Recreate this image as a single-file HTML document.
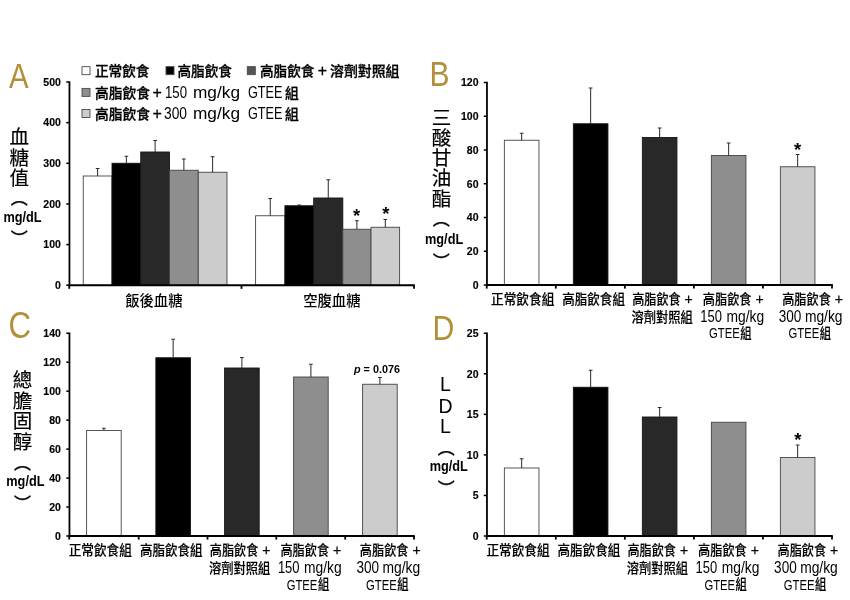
<!DOCTYPE html>
<html lang="zh-Hant">
<head>
<meta charset="utf-8">
<title>GTEE 血糖與血脂</title>
<style>
html,body{margin:0;padding:0;background:#fff;}
body{width:850px;height:600px;overflow:hidden;font-family:"Liberation Sans","Noto Sans CJK TC",sans-serif;}
svg{display:block;filter:blur(0.45px);}
</style>
</head>
<body>
<svg width="850" height="600" viewBox="0 0 850 600">
<rect x="0" y="0" width="850" height="600" fill="#ffffff"/>
<rect x="83.25" y="176.00" width="28.75" height="109.25" fill="#ffffff" stroke="#444444" stroke-width="0.9"/>
<line x1="97.62" y1="176.00" x2="97.62" y2="168.50" stroke="#2a2a2a" stroke-width="1.0"/>
<line x1="95.78" y1="168.50" x2="99.47" y2="168.50" stroke="#2a2a2a" stroke-width="1.0"/>
<rect x="112.00" y="163.25" width="28.75" height="122.00" fill="#000000" stroke="#141414" stroke-width="0.9"/>
<line x1="126.38" y1="163.25" x2="126.38" y2="156.25" stroke="#2a2a2a" stroke-width="1.0"/>
<line x1="124.53" y1="156.25" x2="128.22" y2="156.25" stroke="#2a2a2a" stroke-width="1.0"/>
<rect x="140.75" y="152.00" width="28.75" height="133.25" fill="#282828" stroke="#141414" stroke-width="0.9"/>
<line x1="155.12" y1="152.00" x2="155.12" y2="140.50" stroke="#2a2a2a" stroke-width="1.0"/>
<line x1="153.28" y1="140.50" x2="156.97" y2="140.50" stroke="#2a2a2a" stroke-width="1.0"/>
<rect x="169.50" y="170.25" width="28.75" height="115.00" fill="#8e8e8e" stroke="#444444" stroke-width="0.9"/>
<line x1="183.88" y1="170.25" x2="183.88" y2="159.00" stroke="#2a2a2a" stroke-width="1.0"/>
<line x1="182.03" y1="159.00" x2="185.72" y2="159.00" stroke="#2a2a2a" stroke-width="1.0"/>
<rect x="198.25" y="172.25" width="28.75" height="113.00" fill="#cccccc" stroke="#444444" stroke-width="0.9"/>
<line x1="212.62" y1="172.25" x2="212.62" y2="156.75" stroke="#2a2a2a" stroke-width="1.0"/>
<line x1="210.78" y1="156.75" x2="214.47" y2="156.75" stroke="#2a2a2a" stroke-width="1.0"/>
<rect x="255.60" y="215.75" width="29.30" height="69.50" fill="#ffffff" stroke="#444444" stroke-width="0.9"/>
<line x1="270.25" y1="215.75" x2="270.25" y2="198.50" stroke="#2a2a2a" stroke-width="1.0"/>
<line x1="268.40" y1="198.50" x2="272.10" y2="198.50" stroke="#2a2a2a" stroke-width="1.0"/>
<rect x="284.90" y="205.75" width="28.80" height="79.50" fill="#000000" stroke="#141414" stroke-width="0.9"/>
<line x1="299.30" y1="205.75" x2="299.30" y2="205.00" stroke="#2a2a2a" stroke-width="1.0"/>
<line x1="297.45" y1="205.00" x2="301.15" y2="205.00" stroke="#2a2a2a" stroke-width="1.0"/>
<rect x="313.70" y="198.00" width="29.10" height="87.25" fill="#282828" stroke="#141414" stroke-width="0.9"/>
<line x1="328.25" y1="198.00" x2="328.25" y2="179.75" stroke="#2a2a2a" stroke-width="1.0"/>
<line x1="326.40" y1="179.75" x2="330.10" y2="179.75" stroke="#2a2a2a" stroke-width="1.0"/>
<rect x="342.80" y="229.25" width="28.20" height="56.00" fill="#8e8e8e" stroke="#444444" stroke-width="0.9"/>
<line x1="356.90" y1="229.25" x2="356.90" y2="220.75" stroke="#2a2a2a" stroke-width="1.0"/>
<line x1="355.05" y1="220.75" x2="358.75" y2="220.75" stroke="#2a2a2a" stroke-width="1.0"/>
<rect x="371.00" y="227.25" width="28.60" height="58.00" fill="#cccccc" stroke="#444444" stroke-width="0.9"/>
<line x1="385.30" y1="227.25" x2="385.30" y2="219.50" stroke="#2a2a2a" stroke-width="1.0"/>
<line x1="383.45" y1="219.50" x2="387.15" y2="219.50" stroke="#2a2a2a" stroke-width="1.0"/>
<text x="356.60" y="221.50" font-size="18.5" font-family='"Liberation Sans", sans-serif' font-weight="bold" text-anchor="middle" fill="#000">*</text>
<text x="385.90" y="220.20" font-size="18.5" font-family='"Liberation Sans", sans-serif' font-weight="bold" text-anchor="middle" fill="#000">*</text>
<text x="125.20" y="306.00" font-size="14.5" font-family='"Liberation Sans", "Noto Sans CJK TC", sans-serif' font-weight="500" text-anchor="start" fill="#000" textLength="57.30" lengthAdjust="spacingAndGlyphs">飯後血糖</text>
<text x="303.20" y="306.00" font-size="14.5" font-family='"Liberation Sans", "Noto Sans CJK TC", sans-serif' font-weight="500" text-anchor="start" fill="#000" textLength="57.30" lengthAdjust="spacingAndGlyphs">空腹血糖</text>
<rect x="82.00" y="66.65" width="8" height="8" fill="#ffffff" stroke="#4a4a4a" stroke-width="0.9"/>
<text x="95.00" y="76.10" font-size="14" font-family='"Liberation Sans", "Noto Sans CJK TC", sans-serif' font-weight="500" text-anchor="start" fill="#000" textLength="54.50" lengthAdjust="spacingAndGlyphs" stroke="#000" stroke-width="0.3">正常飲食</text>
<rect x="166.00" y="66.65" width="8" height="8" fill="#000000" stroke="#4a4a4a" stroke-width="0.9"/>
<text x="177.50" y="76.10" font-size="14" font-family='"Liberation Sans", "Noto Sans CJK TC", sans-serif' font-weight="500" text-anchor="start" fill="#000" textLength="54.50" lengthAdjust="spacingAndGlyphs" stroke="#000" stroke-width="0.3">高脂飲食</text>
<rect x="247.30" y="66.65" width="8" height="8" fill="#555" stroke="#4a4a4a" stroke-width="0.9"/>
<text x="260.00" y="76.10" font-size="14" font-family='"Liberation Sans", "Noto Sans CJK TC", sans-serif' font-weight="500" text-anchor="start" fill="#000" textLength="54.50" lengthAdjust="spacingAndGlyphs" stroke="#000" stroke-width="0.3">高脂飲食</text>
<text x="322.50" y="76.10" font-size="16" font-family='"Liberation Sans", sans-serif' font-weight="normal" text-anchor="middle" fill="#000" stroke="#000" stroke-width="0.3">+</text>
<text x="330.00" y="76.10" font-size="14" font-family='"Liberation Sans", "Noto Sans CJK TC", sans-serif' font-weight="500" text-anchor="start" fill="#000" textLength="69.50" lengthAdjust="spacingAndGlyphs" stroke="#000" stroke-width="0.3">溶劑對照組</text>
<rect x="82.00" y="88.40" width="8" height="8" fill="#8e8e8e" stroke="#4a4a4a" stroke-width="0.9"/>
<text x="95.00" y="97.70" font-size="14" font-family='"Liberation Sans", "Noto Sans CJK TC", sans-serif' font-weight="500" text-anchor="start" fill="#000" textLength="55.00" lengthAdjust="spacingAndGlyphs" stroke="#000" stroke-width="0.3">高脂飲食</text>
<text x="157.10" y="97.70" font-size="16" font-family='"Liberation Sans", sans-serif' font-weight="normal" text-anchor="middle" fill="#000" stroke="#000" stroke-width="0.3">+</text>
<text x="165.00" y="97.70" font-size="16" font-family='"Liberation Sans", sans-serif' font-weight="normal" text-anchor="start" fill="#000" textLength="22.00" lengthAdjust="spacingAndGlyphs">150</text>
<text x="193.00" y="97.70" font-size="16" font-family='"Liberation Sans", sans-serif' font-weight="normal" text-anchor="start" fill="#000" textLength="47.00" lengthAdjust="spacingAndGlyphs">mg/kg</text>
<text x="248.00" y="97.70" font-size="16" font-family='"Liberation Sans", sans-serif' font-weight="normal" text-anchor="start" fill="#000" textLength="34.50" lengthAdjust="spacingAndGlyphs">GTEE</text>
<text x="285.00" y="97.70" font-size="14" font-family='"Liberation Sans", "Noto Sans CJK TC", sans-serif' font-weight="500" text-anchor="start" fill="#000" textLength="13.75" lengthAdjust="spacingAndGlyphs" stroke="#000" stroke-width="0.3">組</text>
<rect x="82.00" y="109.50" width="8" height="8" fill="#cccccc" stroke="#4a4a4a" stroke-width="0.9"/>
<text x="95.00" y="118.90" font-size="14" font-family='"Liberation Sans", "Noto Sans CJK TC", sans-serif' font-weight="500" text-anchor="start" fill="#000" textLength="55.00" lengthAdjust="spacingAndGlyphs" stroke="#000" stroke-width="0.3">高脂飲食</text>
<text x="157.10" y="118.90" font-size="16" font-family='"Liberation Sans", sans-serif' font-weight="normal" text-anchor="middle" fill="#000" stroke="#000" stroke-width="0.3">+</text>
<text x="164.00" y="118.90" font-size="16" font-family='"Liberation Sans", sans-serif' font-weight="normal" text-anchor="start" fill="#000" textLength="23.00" lengthAdjust="spacingAndGlyphs">300</text>
<text x="193.00" y="118.90" font-size="16" font-family='"Liberation Sans", sans-serif' font-weight="normal" text-anchor="start" fill="#000" textLength="47.00" lengthAdjust="spacingAndGlyphs">mg/kg</text>
<text x="248.00" y="118.90" font-size="16" font-family='"Liberation Sans", sans-serif' font-weight="normal" text-anchor="start" fill="#000" textLength="34.50" lengthAdjust="spacingAndGlyphs">GTEE</text>
<text x="285.00" y="118.90" font-size="14" font-family='"Liberation Sans", "Noto Sans CJK TC", sans-serif' font-weight="500" text-anchor="start" fill="#000" textLength="13.75" lengthAdjust="spacingAndGlyphs" stroke="#000" stroke-width="0.3">組</text>
<text x="9.00" y="87.80" font-size="34.5" font-family='"Liberation Sans", sans-serif' font-weight="normal" text-anchor="start" fill="#b38f3a" textLength="19.60" lengthAdjust="spacingAndGlyphs">A</text>
<text x="19.30" y="144.40" font-size="19.5" font-family='"Liberation Sans", "Noto Sans CJK TC", sans-serif' font-weight="400" text-anchor="middle" fill="#000" stroke="#000" stroke-width="0.2">血</text>
<text x="19.30" y="164.90" font-size="19.5" font-family='"Liberation Sans", "Noto Sans CJK TC", sans-serif' font-weight="400" text-anchor="middle" fill="#000" stroke="#000" stroke-width="0.2">糖</text>
<text x="19.30" y="184.90" font-size="19.5" font-family='"Liberation Sans", "Noto Sans CJK TC", sans-serif' font-weight="400" text-anchor="middle" fill="#000" stroke="#000" stroke-width="0.2">值</text>
<text x="19.25" y="203.70" font-size="17" font-family='"Liberation Sans", "Noto Sans CJK TC", sans-serif' font-weight="500" text-anchor="middle" fill="#000" stroke="#000" stroke-width="0.25">︵</text>
<text x="22.50" y="221.80" font-size="14.4" font-family='"Liberation Sans", sans-serif' font-weight="bold" text-anchor="middle" fill="#000" textLength="38.20" lengthAdjust="spacingAndGlyphs">mg/dL</text>
<text x="19.25" y="244.90" font-size="17" font-family='"Liberation Sans", "Noto Sans CJK TC", sans-serif' font-weight="500" text-anchor="middle" fill="#000" stroke="#000" stroke-width="0.25">︶</text>
<rect x="504.35" y="140.25" width="34.60" height="144.75" fill="#ffffff" stroke="#444444" stroke-width="0.9"/>
<line x1="521.65" y1="140.25" x2="521.65" y2="133.25" stroke="#2a2a2a" stroke-width="1.0"/>
<line x1="519.80" y1="133.25" x2="523.50" y2="133.25" stroke="#2a2a2a" stroke-width="1.0"/>
<rect x="573.35" y="123.75" width="34.60" height="161.25" fill="#000000" stroke="#141414" stroke-width="0.9"/>
<line x1="590.65" y1="123.75" x2="590.65" y2="88.00" stroke="#2a2a2a" stroke-width="1.0"/>
<line x1="588.80" y1="88.00" x2="592.50" y2="88.00" stroke="#2a2a2a" stroke-width="1.0"/>
<rect x="642.35" y="137.50" width="34.60" height="147.50" fill="#282828" stroke="#141414" stroke-width="0.9"/>
<line x1="659.65" y1="137.50" x2="659.65" y2="128.00" stroke="#2a2a2a" stroke-width="1.0"/>
<line x1="657.80" y1="128.00" x2="661.50" y2="128.00" stroke="#2a2a2a" stroke-width="1.0"/>
<rect x="711.35" y="155.50" width="34.60" height="129.50" fill="#8e8e8e" stroke="#444444" stroke-width="0.9"/>
<line x1="728.65" y1="155.50" x2="728.65" y2="143.00" stroke="#2a2a2a" stroke-width="1.0"/>
<line x1="726.80" y1="143.00" x2="730.50" y2="143.00" stroke="#2a2a2a" stroke-width="1.0"/>
<rect x="780.35" y="166.75" width="34.60" height="118.25" fill="#cccccc" stroke="#444444" stroke-width="0.9"/>
<line x1="797.65" y1="166.75" x2="797.65" y2="154.50" stroke="#2a2a2a" stroke-width="1.0"/>
<line x1="795.80" y1="154.50" x2="799.50" y2="154.50" stroke="#2a2a2a" stroke-width="1.0"/>
<text x="797.50" y="155.80" font-size="18.5" font-family='"Liberation Sans", sans-serif' font-weight="bold" text-anchor="middle" fill="#000">*</text>
<text x="491.10" y="303.80" font-size="13.5" font-family='"Liberation Sans", "Noto Sans CJK TC", sans-serif' font-weight="500" text-anchor="start" fill="#000" textLength="63.20" lengthAdjust="spacingAndGlyphs" stroke="#000" stroke-width="0.15">正常飲食組</text>
<text x="562.30" y="303.80" font-size="13.5" font-family='"Liberation Sans", "Noto Sans CJK TC", sans-serif' font-weight="500" text-anchor="start" fill="#000" textLength="62.60" lengthAdjust="spacingAndGlyphs" stroke="#000" stroke-width="0.15">高脂飲食組</text>
<text x="632.20" y="303.80" font-size="13.5" font-family='"Liberation Sans", "Noto Sans CJK TC", sans-serif' font-weight="500" text-anchor="start" fill="#000" textLength="48.50" lengthAdjust="spacingAndGlyphs" stroke="#000" stroke-width="0.15">高脂飲食</text>
<text x="688.70" y="303.70" font-size="14" font-family='"Liberation Sans", sans-serif' font-weight="normal" text-anchor="middle" fill="#000" stroke="#000" stroke-width="0.25">+</text>
<text x="631.40" y="321.80" font-size="13.5" font-family='"Liberation Sans", "Noto Sans CJK TC", sans-serif' font-weight="500" text-anchor="start" fill="#000" textLength="61.30" lengthAdjust="spacingAndGlyphs" stroke="#000" stroke-width="0.15">溶劑對照組</text>
<text x="702.80" y="303.80" font-size="13.5" font-family='"Liberation Sans", "Noto Sans CJK TC", sans-serif' font-weight="500" text-anchor="start" fill="#000" textLength="48.70" lengthAdjust="spacingAndGlyphs" stroke="#000" stroke-width="0.15">高脂飲食</text>
<text x="759.50" y="303.70" font-size="14" font-family='"Liberation Sans", sans-serif' font-weight="normal" text-anchor="middle" fill="#000" stroke="#000" stroke-width="0.25">+</text>
<text x="700.30" y="321.80" font-size="16" font-family='"Liberation Sans", sans-serif' font-weight="normal" text-anchor="start" fill="#000" textLength="21.70" lengthAdjust="spacingAndGlyphs">150</text>
<text x="726.50" y="321.80" font-size="16" font-family='"Liberation Sans", sans-serif' font-weight="normal" text-anchor="start" fill="#000" textLength="37.60" lengthAdjust="spacingAndGlyphs">mg/kg</text>
<text x="709.10" y="338.30" font-size="15" font-family='"Liberation Sans", sans-serif' font-weight="normal" text-anchor="start" fill="#000" textLength="30.70" lengthAdjust="spacingAndGlyphs">GTEE</text>
<text x="740.30" y="337.60" font-size="13.5" font-family='"Liberation Sans", "Noto Sans CJK TC", sans-serif' font-weight="500" text-anchor="start" fill="#000" textLength="11.30" lengthAdjust="spacingAndGlyphs" stroke="#000" stroke-width="0.15">組</text>
<text x="782.20" y="303.80" font-size="13.5" font-family='"Liberation Sans", "Noto Sans CJK TC", sans-serif' font-weight="500" text-anchor="start" fill="#000" textLength="48.70" lengthAdjust="spacingAndGlyphs" stroke="#000" stroke-width="0.15">高脂飲食</text>
<text x="838.90" y="303.70" font-size="14" font-family='"Liberation Sans", sans-serif' font-weight="normal" text-anchor="middle" fill="#000" stroke="#000" stroke-width="0.25">+</text>
<text x="778.80" y="321.80" font-size="16" font-family='"Liberation Sans", sans-serif' font-weight="normal" text-anchor="start" fill="#000" textLength="22.60" lengthAdjust="spacingAndGlyphs">300</text>
<text x="804.90" y="321.80" font-size="16" font-family='"Liberation Sans", sans-serif' font-weight="normal" text-anchor="start" fill="#000" textLength="37.60" lengthAdjust="spacingAndGlyphs">mg/kg</text>
<text x="788.50" y="338.30" font-size="15" font-family='"Liberation Sans", sans-serif' font-weight="normal" text-anchor="start" fill="#000" textLength="30.70" lengthAdjust="spacingAndGlyphs">GTEE</text>
<text x="819.70" y="337.60" font-size="13.5" font-family='"Liberation Sans", "Noto Sans CJK TC", sans-serif' font-weight="500" text-anchor="start" fill="#000" textLength="11.30" lengthAdjust="spacingAndGlyphs" stroke="#000" stroke-width="0.15">組</text>
<text x="429.60" y="86.00" font-size="34.5" font-family='"Liberation Sans", sans-serif' font-weight="normal" text-anchor="start" fill="#b38f3a" textLength="20.00" lengthAdjust="spacingAndGlyphs">B</text>
<text x="441.50" y="124.90" font-size="19.5" font-family='"Liberation Sans", "Noto Sans CJK TC", sans-serif' font-weight="400" text-anchor="middle" fill="#000" stroke="#000" stroke-width="0.2">三</text>
<text x="441.50" y="144.90" font-size="19.5" font-family='"Liberation Sans", "Noto Sans CJK TC", sans-serif' font-weight="400" text-anchor="middle" fill="#000" stroke="#000" stroke-width="0.2">酸</text>
<text x="441.50" y="164.90" font-size="19.5" font-family='"Liberation Sans", "Noto Sans CJK TC", sans-serif' font-weight="400" text-anchor="middle" fill="#000" stroke="#000" stroke-width="0.2">甘</text>
<text x="441.50" y="185.40" font-size="19.5" font-family='"Liberation Sans", "Noto Sans CJK TC", sans-serif' font-weight="400" text-anchor="middle" fill="#000" stroke="#000" stroke-width="0.2">油</text>
<text x="441.50" y="205.90" font-size="19.5" font-family='"Liberation Sans", "Noto Sans CJK TC", sans-serif' font-weight="400" text-anchor="middle" fill="#000" stroke="#000" stroke-width="0.2">酯</text>
<text x="441.20" y="225.00" font-size="17" font-family='"Liberation Sans", "Noto Sans CJK TC", sans-serif' font-weight="500" text-anchor="middle" fill="#000" stroke="#000" stroke-width="0.25">︵</text>
<text x="444.10" y="244.30" font-size="14.4" font-family='"Liberation Sans", sans-serif' font-weight="bold" text-anchor="middle" fill="#000" textLength="38.20" lengthAdjust="spacingAndGlyphs">mg/dL</text>
<text x="441.20" y="267.80" font-size="17" font-family='"Liberation Sans", "Noto Sans CJK TC", sans-serif' font-weight="500" text-anchor="middle" fill="#000" stroke="#000" stroke-width="0.25">︶</text>
<rect x="86.60" y="430.50" width="34.60" height="105.50" fill="#ffffff" stroke="#444444" stroke-width="0.9"/>
<line x1="103.90" y1="430.50" x2="103.90" y2="428.25" stroke="#2a2a2a" stroke-width="1.0"/>
<line x1="102.05" y1="428.25" x2="105.75" y2="428.25" stroke="#2a2a2a" stroke-width="1.0"/>
<rect x="155.85" y="357.75" width="34.60" height="178.25" fill="#000000" stroke="#141414" stroke-width="0.9"/>
<line x1="173.15" y1="357.75" x2="173.15" y2="339.25" stroke="#2a2a2a" stroke-width="1.0"/>
<line x1="171.30" y1="339.25" x2="175.00" y2="339.25" stroke="#2a2a2a" stroke-width="1.0"/>
<rect x="224.60" y="368.00" width="34.60" height="168.00" fill="#282828" stroke="#141414" stroke-width="0.9"/>
<line x1="241.90" y1="368.00" x2="241.90" y2="357.50" stroke="#2a2a2a" stroke-width="1.0"/>
<line x1="240.05" y1="357.50" x2="243.75" y2="357.50" stroke="#2a2a2a" stroke-width="1.0"/>
<rect x="293.60" y="377.00" width="34.60" height="159.00" fill="#8e8e8e" stroke="#444444" stroke-width="0.9"/>
<line x1="310.90" y1="377.00" x2="310.90" y2="364.25" stroke="#2a2a2a" stroke-width="1.0"/>
<line x1="309.05" y1="364.25" x2="312.75" y2="364.25" stroke="#2a2a2a" stroke-width="1.0"/>
<rect x="362.60" y="384.25" width="34.60" height="151.75" fill="#cccccc" stroke="#444444" stroke-width="0.9"/>
<line x1="379.90" y1="384.25" x2="379.90" y2="377.50" stroke="#2a2a2a" stroke-width="1.0"/>
<line x1="378.05" y1="377.50" x2="381.75" y2="377.50" stroke="#2a2a2a" stroke-width="1.0"/>
<text x="354" y="372.9" font-size="11" font-family='"Liberation Sans", sans-serif' font-weight="bold" fill="#000" textLength="46" lengthAdjust="spacingAndGlyphs"><tspan font-style="italic">p</tspan> = 0.076</text>
<text x="68.70" y="555.10" font-size="13.5" font-family='"Liberation Sans", "Noto Sans CJK TC", sans-serif' font-weight="500" text-anchor="start" fill="#000" textLength="63.20" lengthAdjust="spacingAndGlyphs" stroke="#000" stroke-width="0.15">正常飲食組</text>
<text x="139.90" y="555.10" font-size="13.5" font-family='"Liberation Sans", "Noto Sans CJK TC", sans-serif' font-weight="500" text-anchor="start" fill="#000" textLength="62.60" lengthAdjust="spacingAndGlyphs" stroke="#000" stroke-width="0.15">高脂飲食組</text>
<text x="209.80" y="555.10" font-size="13.5" font-family='"Liberation Sans", "Noto Sans CJK TC", sans-serif' font-weight="500" text-anchor="start" fill="#000" textLength="48.50" lengthAdjust="spacingAndGlyphs" stroke="#000" stroke-width="0.15">高脂飲食</text>
<text x="266.30" y="555.00" font-size="14" font-family='"Liberation Sans", sans-serif' font-weight="normal" text-anchor="middle" fill="#000" stroke="#000" stroke-width="0.25">+</text>
<text x="209.00" y="573.10" font-size="13.5" font-family='"Liberation Sans", "Noto Sans CJK TC", sans-serif' font-weight="500" text-anchor="start" fill="#000" textLength="61.30" lengthAdjust="spacingAndGlyphs" stroke="#000" stroke-width="0.15">溶劑對照組</text>
<text x="280.40" y="555.10" font-size="13.5" font-family='"Liberation Sans", "Noto Sans CJK TC", sans-serif' font-weight="500" text-anchor="start" fill="#000" textLength="48.70" lengthAdjust="spacingAndGlyphs" stroke="#000" stroke-width="0.15">高脂飲食</text>
<text x="337.10" y="555.00" font-size="14" font-family='"Liberation Sans", sans-serif' font-weight="normal" text-anchor="middle" fill="#000" stroke="#000" stroke-width="0.25">+</text>
<text x="277.90" y="573.10" font-size="16" font-family='"Liberation Sans", sans-serif' font-weight="normal" text-anchor="start" fill="#000" textLength="21.70" lengthAdjust="spacingAndGlyphs">150</text>
<text x="304.10" y="573.10" font-size="16" font-family='"Liberation Sans", sans-serif' font-weight="normal" text-anchor="start" fill="#000" textLength="37.60" lengthAdjust="spacingAndGlyphs">mg/kg</text>
<text x="286.70" y="589.60" font-size="15" font-family='"Liberation Sans", sans-serif' font-weight="normal" text-anchor="start" fill="#000" textLength="30.70" lengthAdjust="spacingAndGlyphs">GTEE</text>
<text x="317.90" y="588.90" font-size="13.5" font-family='"Liberation Sans", "Noto Sans CJK TC", sans-serif' font-weight="500" text-anchor="start" fill="#000" textLength="11.30" lengthAdjust="spacingAndGlyphs" stroke="#000" stroke-width="0.15">組</text>
<text x="359.80" y="555.10" font-size="13.5" font-family='"Liberation Sans", "Noto Sans CJK TC", sans-serif' font-weight="500" text-anchor="start" fill="#000" textLength="48.70" lengthAdjust="spacingAndGlyphs" stroke="#000" stroke-width="0.15">高脂飲食</text>
<text x="416.50" y="555.00" font-size="14" font-family='"Liberation Sans", sans-serif' font-weight="normal" text-anchor="middle" fill="#000" stroke="#000" stroke-width="0.25">+</text>
<text x="356.40" y="573.10" font-size="16" font-family='"Liberation Sans", sans-serif' font-weight="normal" text-anchor="start" fill="#000" textLength="22.60" lengthAdjust="spacingAndGlyphs">300</text>
<text x="382.50" y="573.10" font-size="16" font-family='"Liberation Sans", sans-serif' font-weight="normal" text-anchor="start" fill="#000" textLength="37.60" lengthAdjust="spacingAndGlyphs">mg/kg</text>
<text x="366.10" y="589.60" font-size="15" font-family='"Liberation Sans", sans-serif' font-weight="normal" text-anchor="start" fill="#000" textLength="30.70" lengthAdjust="spacingAndGlyphs">GTEE</text>
<text x="397.30" y="588.90" font-size="13.5" font-family='"Liberation Sans", "Noto Sans CJK TC", sans-serif' font-weight="500" text-anchor="start" fill="#000" textLength="11.30" lengthAdjust="spacingAndGlyphs" stroke="#000" stroke-width="0.15">組</text>
<text x="8.40" y="338.20" font-size="36" font-family='"Liberation Sans", sans-serif' font-weight="normal" text-anchor="start" fill="#b38f3a" textLength="22.60" lengthAdjust="spacingAndGlyphs">C</text>
<text x="22.60" y="386.90" font-size="19.5" font-family='"Liberation Sans", "Noto Sans CJK TC", sans-serif' font-weight="400" text-anchor="middle" fill="#000" stroke="#000" stroke-width="0.2">總</text>
<text x="22.60" y="407.60" font-size="19.5" font-family='"Liberation Sans", "Noto Sans CJK TC", sans-serif' font-weight="400" text-anchor="middle" fill="#000" stroke="#000" stroke-width="0.2">膽</text>
<text x="22.60" y="428.00" font-size="19.5" font-family='"Liberation Sans", "Noto Sans CJK TC", sans-serif' font-weight="400" text-anchor="middle" fill="#000" stroke="#000" stroke-width="0.2">固</text>
<text x="22.60" y="448.70" font-size="19.5" font-family='"Liberation Sans", "Noto Sans CJK TC", sans-serif' font-weight="400" text-anchor="middle" fill="#000" stroke="#000" stroke-width="0.2">醇</text>
<text x="22.40" y="468.60" font-size="17" font-family='"Liberation Sans", "Noto Sans CJK TC", sans-serif' font-weight="500" text-anchor="middle" fill="#000" stroke="#000" stroke-width="0.25">︵</text>
<text x="25.40" y="486.30" font-size="14.4" font-family='"Liberation Sans", sans-serif' font-weight="bold" text-anchor="middle" fill="#000" textLength="38.20" lengthAdjust="spacingAndGlyphs">mg/dL</text>
<text x="22.40" y="509.70" font-size="17" font-family='"Liberation Sans", "Noto Sans CJK TC", sans-serif' font-weight="500" text-anchor="middle" fill="#000" stroke="#000" stroke-width="0.25">︶</text>
<rect x="504.35" y="468.00" width="34.60" height="68.00" fill="#ffffff" stroke="#444444" stroke-width="0.9"/>
<line x1="521.65" y1="468.00" x2="521.65" y2="458.75" stroke="#2a2a2a" stroke-width="1.0"/>
<line x1="519.80" y1="458.75" x2="523.50" y2="458.75" stroke="#2a2a2a" stroke-width="1.0"/>
<rect x="573.35" y="387.25" width="34.60" height="148.75" fill="#000000" stroke="#141414" stroke-width="0.9"/>
<line x1="590.65" y1="387.25" x2="590.65" y2="370.25" stroke="#2a2a2a" stroke-width="1.0"/>
<line x1="588.80" y1="370.25" x2="592.50" y2="370.25" stroke="#2a2a2a" stroke-width="1.0"/>
<rect x="642.35" y="417.00" width="34.60" height="119.00" fill="#282828" stroke="#141414" stroke-width="0.9"/>
<line x1="659.65" y1="417.00" x2="659.65" y2="407.50" stroke="#2a2a2a" stroke-width="1.0"/>
<line x1="657.80" y1="407.50" x2="661.50" y2="407.50" stroke="#2a2a2a" stroke-width="1.0"/>
<rect x="711.35" y="422.25" width="34.60" height="113.75" fill="#8e8e8e" stroke="#444444" stroke-width="0.9"/>
<rect x="780.35" y="457.50" width="34.60" height="78.50" fill="#cccccc" stroke="#444444" stroke-width="0.9"/>
<line x1="797.65" y1="457.50" x2="797.65" y2="445.00" stroke="#2a2a2a" stroke-width="1.0"/>
<line x1="795.80" y1="445.00" x2="799.50" y2="445.00" stroke="#2a2a2a" stroke-width="1.0"/>
<text x="797.75" y="445.80" font-size="18.5" font-family='"Liberation Sans", sans-serif' font-weight="bold" text-anchor="middle" fill="#000">*</text>
<text x="486.40" y="555.20" font-size="13.5" font-family='"Liberation Sans", "Noto Sans CJK TC", sans-serif' font-weight="500" text-anchor="start" fill="#000" textLength="63.20" lengthAdjust="spacingAndGlyphs" stroke="#000" stroke-width="0.15">正常飲食組</text>
<text x="557.60" y="555.20" font-size="13.5" font-family='"Liberation Sans", "Noto Sans CJK TC", sans-serif' font-weight="500" text-anchor="start" fill="#000" textLength="62.60" lengthAdjust="spacingAndGlyphs" stroke="#000" stroke-width="0.15">高脂飲食組</text>
<text x="627.50" y="555.20" font-size="13.5" font-family='"Liberation Sans", "Noto Sans CJK TC", sans-serif' font-weight="500" text-anchor="start" fill="#000" textLength="48.50" lengthAdjust="spacingAndGlyphs" stroke="#000" stroke-width="0.15">高脂飲食</text>
<text x="684.00" y="555.10" font-size="14" font-family='"Liberation Sans", sans-serif' font-weight="normal" text-anchor="middle" fill="#000" stroke="#000" stroke-width="0.25">+</text>
<text x="626.70" y="573.20" font-size="13.5" font-family='"Liberation Sans", "Noto Sans CJK TC", sans-serif' font-weight="500" text-anchor="start" fill="#000" textLength="61.30" lengthAdjust="spacingAndGlyphs" stroke="#000" stroke-width="0.15">溶劑對照組</text>
<text x="698.10" y="555.20" font-size="13.5" font-family='"Liberation Sans", "Noto Sans CJK TC", sans-serif' font-weight="500" text-anchor="start" fill="#000" textLength="48.70" lengthAdjust="spacingAndGlyphs" stroke="#000" stroke-width="0.15">高脂飲食</text>
<text x="754.80" y="555.10" font-size="14" font-family='"Liberation Sans", sans-serif' font-weight="normal" text-anchor="middle" fill="#000" stroke="#000" stroke-width="0.25">+</text>
<text x="695.60" y="573.20" font-size="16" font-family='"Liberation Sans", sans-serif' font-weight="normal" text-anchor="start" fill="#000" textLength="21.70" lengthAdjust="spacingAndGlyphs">150</text>
<text x="721.80" y="573.20" font-size="16" font-family='"Liberation Sans", sans-serif' font-weight="normal" text-anchor="start" fill="#000" textLength="37.60" lengthAdjust="spacingAndGlyphs">mg/kg</text>
<text x="704.40" y="589.70" font-size="15" font-family='"Liberation Sans", sans-serif' font-weight="normal" text-anchor="start" fill="#000" textLength="30.70" lengthAdjust="spacingAndGlyphs">GTEE</text>
<text x="735.60" y="589.00" font-size="13.5" font-family='"Liberation Sans", "Noto Sans CJK TC", sans-serif' font-weight="500" text-anchor="start" fill="#000" textLength="11.30" lengthAdjust="spacingAndGlyphs" stroke="#000" stroke-width="0.15">組</text>
<text x="777.50" y="555.20" font-size="13.5" font-family='"Liberation Sans", "Noto Sans CJK TC", sans-serif' font-weight="500" text-anchor="start" fill="#000" textLength="48.70" lengthAdjust="spacingAndGlyphs" stroke="#000" stroke-width="0.15">高脂飲食</text>
<text x="834.20" y="555.10" font-size="14" font-family='"Liberation Sans", sans-serif' font-weight="normal" text-anchor="middle" fill="#000" stroke="#000" stroke-width="0.25">+</text>
<text x="774.10" y="573.20" font-size="16" font-family='"Liberation Sans", sans-serif' font-weight="normal" text-anchor="start" fill="#000" textLength="22.60" lengthAdjust="spacingAndGlyphs">300</text>
<text x="800.20" y="573.20" font-size="16" font-family='"Liberation Sans", sans-serif' font-weight="normal" text-anchor="start" fill="#000" textLength="37.60" lengthAdjust="spacingAndGlyphs">mg/kg</text>
<text x="783.80" y="589.70" font-size="15" font-family='"Liberation Sans", sans-serif' font-weight="normal" text-anchor="start" fill="#000" textLength="30.70" lengthAdjust="spacingAndGlyphs">GTEE</text>
<text x="815.00" y="589.00" font-size="13.5" font-family='"Liberation Sans", "Noto Sans CJK TC", sans-serif' font-weight="500" text-anchor="start" fill="#000" textLength="11.30" lengthAdjust="spacingAndGlyphs" stroke="#000" stroke-width="0.15">組</text>
<text x="432.60" y="339.90" font-size="34.5" font-family='"Liberation Sans", sans-serif' font-weight="normal" text-anchor="start" fill="#b38f3a" textLength="21.80" lengthAdjust="spacingAndGlyphs">D</text>
<text x="445.50" y="391.25" font-size="19.5" font-family='"Liberation Sans", sans-serif' font-weight="normal" text-anchor="middle" fill="#000">L</text>
<text x="445.50" y="412.50" font-size="19.5" font-family='"Liberation Sans", sans-serif' font-weight="normal" text-anchor="middle" fill="#000">D</text>
<text x="445.50" y="433.00" font-size="19.5" font-family='"Liberation Sans", sans-serif' font-weight="normal" text-anchor="middle" fill="#000">L</text>
<text x="446.25" y="454.30" font-size="17" font-family='"Liberation Sans", "Noto Sans CJK TC", sans-serif' font-weight="500" text-anchor="middle" fill="#000" stroke="#000" stroke-width="0.25">︵</text>
<text x="448.75" y="471.30" font-size="14.4" font-family='"Liberation Sans", sans-serif' font-weight="bold" text-anchor="middle" fill="#000" textLength="38.20" lengthAdjust="spacingAndGlyphs">mg/dL</text>
<text x="446.25" y="495.10" font-size="17" font-family='"Liberation Sans", "Noto Sans CJK TC", sans-serif' font-weight="500" text-anchor="middle" fill="#000" stroke="#000" stroke-width="0.25">︶</text>
<line x1="69.45" y1="81.30" x2="69.45" y2="286.05" stroke="#000" stroke-width="1.8"/>
<line x1="68.55" y1="285.15" x2="414.80" y2="285.15" stroke="#000" stroke-width="2.0"/>
<line x1="66.25" y1="285.25" x2="69.25" y2="285.25" stroke="#000" stroke-width="1.5"/>
<text x="60.90" y="289.05" font-size="10.5" font-family='"Liberation Sans", sans-serif' font-weight="bold" text-anchor="end" fill="#000" stroke="#000" stroke-width="0.15">0</text>
<line x1="66.25" y1="244.60" x2="69.25" y2="244.60" stroke="#000" stroke-width="1.5"/>
<text x="60.90" y="248.40" font-size="10.5" font-family='"Liberation Sans", sans-serif' font-weight="bold" text-anchor="end" fill="#000" stroke="#000" stroke-width="0.15">100</text>
<line x1="66.25" y1="203.95" x2="69.25" y2="203.95" stroke="#000" stroke-width="1.5"/>
<text x="60.90" y="207.75" font-size="10.5" font-family='"Liberation Sans", sans-serif' font-weight="bold" text-anchor="end" fill="#000" stroke="#000" stroke-width="0.15">200</text>
<line x1="66.25" y1="163.30" x2="69.25" y2="163.30" stroke="#000" stroke-width="1.5"/>
<text x="60.90" y="167.10" font-size="10.5" font-family='"Liberation Sans", sans-serif' font-weight="bold" text-anchor="end" fill="#000" stroke="#000" stroke-width="0.15">300</text>
<line x1="66.25" y1="122.65" x2="69.25" y2="122.65" stroke="#000" stroke-width="1.5"/>
<text x="60.90" y="126.45" font-size="10.5" font-family='"Liberation Sans", sans-serif' font-weight="bold" text-anchor="end" fill="#000" stroke="#000" stroke-width="0.15">400</text>
<line x1="66.25" y1="82.00" x2="69.25" y2="82.00" stroke="#000" stroke-width="1.5"/>
<text x="60.90" y="85.80" font-size="10.5" font-family='"Liberation Sans", sans-serif' font-weight="bold" text-anchor="end" fill="#000" stroke="#000" stroke-width="0.15">500</text>
<line x1="69.25" y1="285.25" x2="69.25" y2="288.85" stroke="#000" stroke-width="1.8"/>
<line x1="241.50" y1="285.25" x2="241.50" y2="288.85" stroke="#000" stroke-width="1.8"/>
<line x1="414.00" y1="285.25" x2="414.00" y2="288.85" stroke="#000" stroke-width="1.8"/>
<line x1="486.95" y1="81.80" x2="486.95" y2="285.80" stroke="#000" stroke-width="1.8"/>
<line x1="486.05" y1="284.90" x2="832.80" y2="284.90" stroke="#000" stroke-width="2.0"/>
<line x1="483.75" y1="285.00" x2="486.75" y2="285.00" stroke="#000" stroke-width="1.5"/>
<text x="478.50" y="288.80" font-size="10.5" font-family='"Liberation Sans", sans-serif' font-weight="bold" text-anchor="end" fill="#000" stroke="#000" stroke-width="0.15">0</text>
<line x1="483.75" y1="251.25" x2="486.75" y2="251.25" stroke="#000" stroke-width="1.5"/>
<text x="478.50" y="255.05" font-size="10.5" font-family='"Liberation Sans", sans-serif' font-weight="bold" text-anchor="end" fill="#000" stroke="#000" stroke-width="0.15">20</text>
<line x1="483.75" y1="217.50" x2="486.75" y2="217.50" stroke="#000" stroke-width="1.5"/>
<text x="478.50" y="221.30" font-size="10.5" font-family='"Liberation Sans", sans-serif' font-weight="bold" text-anchor="end" fill="#000" stroke="#000" stroke-width="0.15">40</text>
<line x1="483.75" y1="183.75" x2="486.75" y2="183.75" stroke="#000" stroke-width="1.5"/>
<text x="478.50" y="187.55" font-size="10.5" font-family='"Liberation Sans", sans-serif' font-weight="bold" text-anchor="end" fill="#000" stroke="#000" stroke-width="0.15">60</text>
<line x1="483.75" y1="150.00" x2="486.75" y2="150.00" stroke="#000" stroke-width="1.5"/>
<text x="478.50" y="153.80" font-size="10.5" font-family='"Liberation Sans", sans-serif' font-weight="bold" text-anchor="end" fill="#000" stroke="#000" stroke-width="0.15">80</text>
<line x1="483.75" y1="116.25" x2="486.75" y2="116.25" stroke="#000" stroke-width="1.5"/>
<text x="478.50" y="120.05" font-size="10.5" font-family='"Liberation Sans", sans-serif' font-weight="bold" text-anchor="end" fill="#000" stroke="#000" stroke-width="0.15">100</text>
<line x1="483.75" y1="82.50" x2="486.75" y2="82.50" stroke="#000" stroke-width="1.5"/>
<text x="478.50" y="86.30" font-size="10.5" font-family='"Liberation Sans", sans-serif' font-weight="bold" text-anchor="end" fill="#000" stroke="#000" stroke-width="0.15">120</text>
<line x1="486.75" y1="285.00" x2="486.75" y2="288.60" stroke="#000" stroke-width="1.8"/>
<line x1="555.80" y1="285.00" x2="555.80" y2="288.60" stroke="#000" stroke-width="1.8"/>
<line x1="624.85" y1="285.00" x2="624.85" y2="288.60" stroke="#000" stroke-width="1.8"/>
<line x1="693.90" y1="285.00" x2="693.90" y2="288.60" stroke="#000" stroke-width="1.8"/>
<line x1="762.95" y1="285.00" x2="762.95" y2="288.60" stroke="#000" stroke-width="1.8"/>
<line x1="832.00" y1="285.00" x2="832.00" y2="288.60" stroke="#000" stroke-width="1.8"/>
<line x1="69.45" y1="332.55" x2="69.45" y2="536.80" stroke="#000" stroke-width="1.8"/>
<line x1="68.55" y1="535.90" x2="414.80" y2="535.90" stroke="#000" stroke-width="2.0"/>
<line x1="66.25" y1="536.00" x2="69.25" y2="536.00" stroke="#000" stroke-width="1.5"/>
<text x="60.90" y="539.80" font-size="10.5" font-family='"Liberation Sans", sans-serif' font-weight="bold" text-anchor="end" fill="#000" stroke="#000" stroke-width="0.15">0</text>
<line x1="66.25" y1="507.04" x2="69.25" y2="507.04" stroke="#000" stroke-width="1.5"/>
<text x="60.90" y="510.84" font-size="10.5" font-family='"Liberation Sans", sans-serif' font-weight="bold" text-anchor="end" fill="#000" stroke="#000" stroke-width="0.15">20</text>
<line x1="66.25" y1="478.07" x2="69.25" y2="478.07" stroke="#000" stroke-width="1.5"/>
<text x="60.90" y="481.87" font-size="10.5" font-family='"Liberation Sans", sans-serif' font-weight="bold" text-anchor="end" fill="#000" stroke="#000" stroke-width="0.15">40</text>
<line x1="66.25" y1="449.11" x2="69.25" y2="449.11" stroke="#000" stroke-width="1.5"/>
<text x="60.90" y="452.91" font-size="10.5" font-family='"Liberation Sans", sans-serif' font-weight="bold" text-anchor="end" fill="#000" stroke="#000" stroke-width="0.15">60</text>
<line x1="66.25" y1="420.14" x2="69.25" y2="420.14" stroke="#000" stroke-width="1.5"/>
<text x="60.90" y="423.94" font-size="10.5" font-family='"Liberation Sans", sans-serif' font-weight="bold" text-anchor="end" fill="#000" stroke="#000" stroke-width="0.15">80</text>
<line x1="66.25" y1="391.18" x2="69.25" y2="391.18" stroke="#000" stroke-width="1.5"/>
<text x="60.90" y="394.98" font-size="10.5" font-family='"Liberation Sans", sans-serif' font-weight="bold" text-anchor="end" fill="#000" stroke="#000" stroke-width="0.15">100</text>
<line x1="66.25" y1="362.21" x2="69.25" y2="362.21" stroke="#000" stroke-width="1.5"/>
<text x="60.90" y="366.01" font-size="10.5" font-family='"Liberation Sans", sans-serif' font-weight="bold" text-anchor="end" fill="#000" stroke="#000" stroke-width="0.15">120</text>
<line x1="66.25" y1="333.25" x2="69.25" y2="333.25" stroke="#000" stroke-width="1.5"/>
<text x="60.90" y="337.05" font-size="10.5" font-family='"Liberation Sans", sans-serif' font-weight="bold" text-anchor="end" fill="#000" stroke="#000" stroke-width="0.15">140</text>
<line x1="69.25" y1="536.00" x2="69.25" y2="539.60" stroke="#000" stroke-width="1.8"/>
<line x1="138.70" y1="536.00" x2="138.70" y2="539.60" stroke="#000" stroke-width="1.8"/>
<line x1="207.50" y1="536.00" x2="207.50" y2="539.60" stroke="#000" stroke-width="1.8"/>
<line x1="276.30" y1="536.00" x2="276.30" y2="539.60" stroke="#000" stroke-width="1.8"/>
<line x1="345.20" y1="536.00" x2="345.20" y2="539.60" stroke="#000" stroke-width="1.8"/>
<line x1="414.00" y1="536.00" x2="414.00" y2="539.60" stroke="#000" stroke-width="1.8"/>
<line x1="486.95" y1="332.55" x2="486.95" y2="536.80" stroke="#000" stroke-width="1.8"/>
<line x1="486.05" y1="535.90" x2="832.80" y2="535.90" stroke="#000" stroke-width="2.0"/>
<line x1="483.75" y1="536.00" x2="486.75" y2="536.00" stroke="#000" stroke-width="1.5"/>
<text x="478.50" y="539.80" font-size="10.5" font-family='"Liberation Sans", sans-serif' font-weight="bold" text-anchor="end" fill="#000" stroke="#000" stroke-width="0.15">0</text>
<line x1="483.75" y1="495.45" x2="486.75" y2="495.45" stroke="#000" stroke-width="1.5"/>
<text x="478.50" y="499.25" font-size="10.5" font-family='"Liberation Sans", sans-serif' font-weight="bold" text-anchor="end" fill="#000" stroke="#000" stroke-width="0.15">5</text>
<line x1="483.75" y1="454.90" x2="486.75" y2="454.90" stroke="#000" stroke-width="1.5"/>
<text x="478.50" y="458.70" font-size="10.5" font-family='"Liberation Sans", sans-serif' font-weight="bold" text-anchor="end" fill="#000" stroke="#000" stroke-width="0.15">10</text>
<line x1="483.75" y1="414.35" x2="486.75" y2="414.35" stroke="#000" stroke-width="1.5"/>
<text x="478.50" y="418.15" font-size="10.5" font-family='"Liberation Sans", sans-serif' font-weight="bold" text-anchor="end" fill="#000" stroke="#000" stroke-width="0.15">15</text>
<line x1="483.75" y1="373.80" x2="486.75" y2="373.80" stroke="#000" stroke-width="1.5"/>
<text x="478.50" y="377.60" font-size="10.5" font-family='"Liberation Sans", sans-serif' font-weight="bold" text-anchor="end" fill="#000" stroke="#000" stroke-width="0.15">20</text>
<line x1="483.75" y1="333.25" x2="486.75" y2="333.25" stroke="#000" stroke-width="1.5"/>
<text x="478.50" y="337.05" font-size="10.5" font-family='"Liberation Sans", sans-serif' font-weight="bold" text-anchor="end" fill="#000" stroke="#000" stroke-width="0.15">25</text>
<line x1="486.75" y1="536.00" x2="486.75" y2="539.60" stroke="#000" stroke-width="1.8"/>
<line x1="555.80" y1="536.00" x2="555.80" y2="539.60" stroke="#000" stroke-width="1.8"/>
<line x1="624.85" y1="536.00" x2="624.85" y2="539.60" stroke="#000" stroke-width="1.8"/>
<line x1="693.90" y1="536.00" x2="693.90" y2="539.60" stroke="#000" stroke-width="1.8"/>
<line x1="762.95" y1="536.00" x2="762.95" y2="539.60" stroke="#000" stroke-width="1.8"/>
<line x1="832.00" y1="536.00" x2="832.00" y2="539.60" stroke="#000" stroke-width="1.8"/>
</svg>
</body>
</html>
